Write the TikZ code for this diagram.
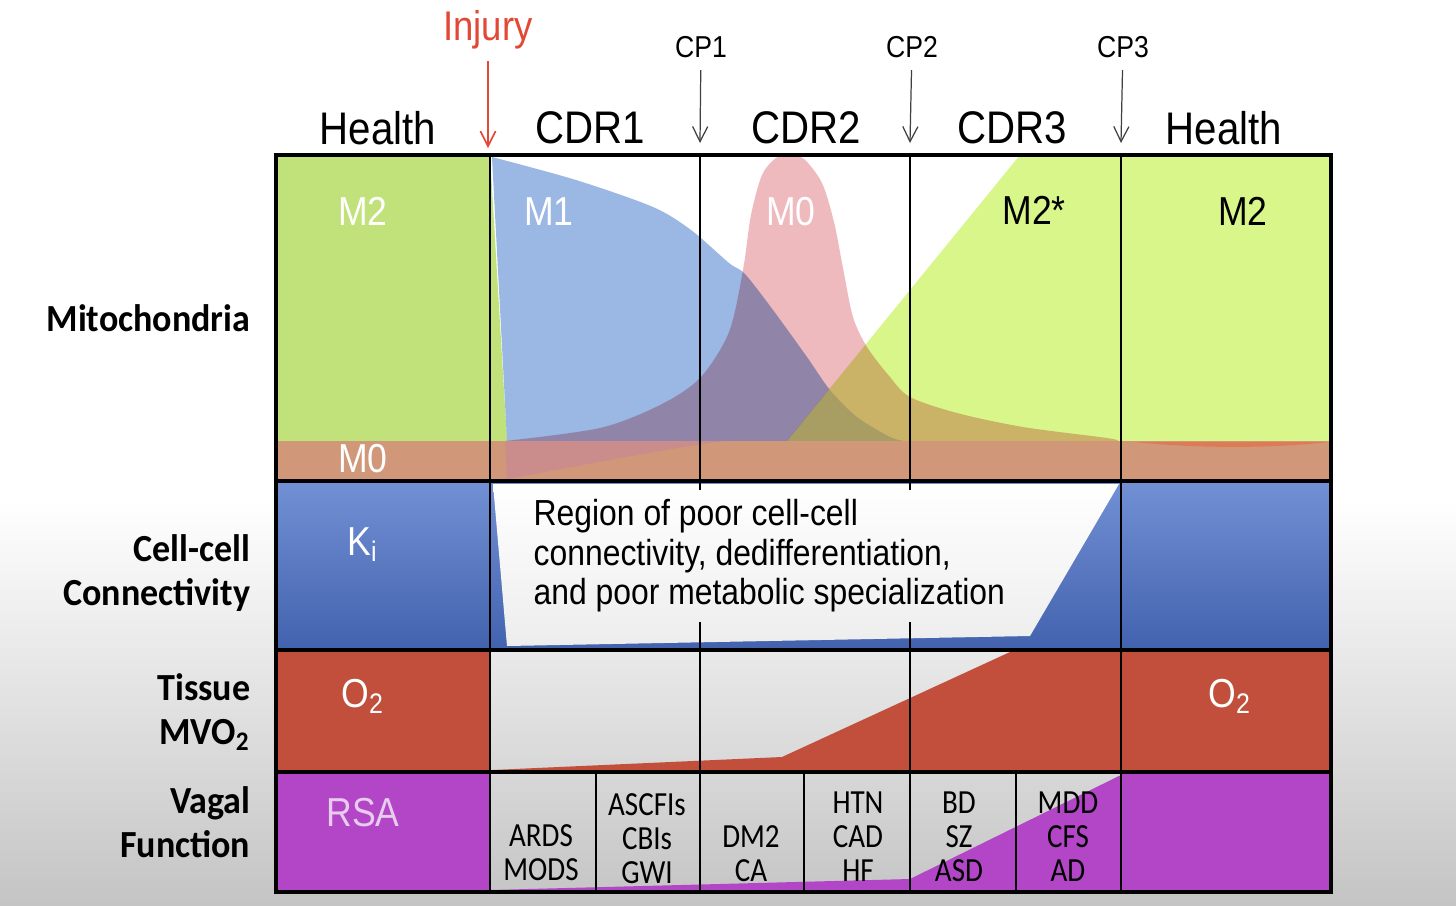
\documentclass[tikz,border=0pt]{standalone}
\usepackage{fontspec}
\setmainfont{Liberation Sans}[FakeStretch=0.88]
\newfontfamily\calfont{Carlito}[FakeStretch=0.94]
\newfontfamily\dxfont{Carlito}[FakeStretch=0.86]
\usetikzlibrary{arrows.meta,positioning}

\definecolor{mtgreen}{RGB}{193,225,123}
\definecolor{mtlime}{RGB}{217,246,139}
\definecolor{mtblue}{RGB}{155,183,228}
\definecolor{mtpink}{RGB}{238,186,190}
\definecolor{mtband}{RGB}{208,152,120}
\definecolor{bandpink}{RGB}{203,140,140}
\definecolor{bandred}{RGB}{226,112,72}
\definecolor{ccblueA}{RGB}{114,144,212}
\definecolor{ccblueB}{RGB}{66,98,174}
\definecolor{tsred}{RGB}{193,79,59}
\definecolor{vgpurple}{RGB}{178,70,198}
\definecolor{rsapink}{RGB}{232,204,238}
\definecolor{injred}{RGB}{226,72,52}
\definecolor{bggray}{RGB}{196,196,196}

% M1 curve, used twice
\newcommand{\mOneshape}{plot[smooth] coordinates {
      (492,157) (576,180) (653,207) (691,230) (729,263) (745,274)
      (773,310) (807,357) (830,390) (857,417) (890,437) (905,441)}
      -- (507,441) -- cycle}

\tikzset{
  coltitle/.style={font=\fontsize{13}{15}\selectfont},
  cplabel/.style={font=\fontsize{8.6}{10}\selectfont},
  boxlabel/.style={font=\fontsize{11.5}{13}\selectfont, text=white, anchor=base},
  rowlabel/.style={font=\calfont\bfseries\fontsize{10.9}{12.6}\selectfont,
                   align=right, anchor=east, inner sep=0pt},
  regtext/.style={font=\fontsize{10.3}{11.2}\selectfont, align=left,
                  anchor=west, inner sep=0pt},
  dxlabel/.style={font=\dxfont\fontsize{9.6}{9.7}\selectfont, align=center},
  gridline/.style={line width=.7pt},
  rowline/.style={line width=1.1pt}
}

\begin{document}
\begin{tikzpicture}[x=0.01cm, y=-0.01cm,
    >={Straight Barb[length=4.3pt,width=4.3pt]}]
  \useasboundingbox (0,0) rectangle (1456,905);
  \fill[white] (0,0) rectangle (1456,905);
  \shade[top color=white, bottom color=bggray] (0,500) rectangle (1456,905);

  % mitochondria
  \fill[mtgreen] (276,155) rectangle (490,441);
  \fill[mtlime]  (1121,155) rectangle (1331,441);
  \fill[mtgreen] (490,155) -- (507,441) -- (490,441) -- cycle;
  \fill[mtlime]  (787,441) -- (1020,155) -- (1121,155) -- (1121,441) -- cycle;
  \begin{scope}
    \clip (480,150) -- (1024,150) -- (787,441) -- (480,441) -- cycle;
    \fill[mtblue, blend mode=multiply] \mOneshape;
  \end{scope}
  \begin{scope}
    \clip (1024,150) -- (1130,150) -- (1130,441) -- (787,441) -- cycle;
    \fill[mtblue, blend mode=multiply, opacity=.42] \mOneshape;
  \end{scope}
  \fill[mtpink, blend mode=multiply] plot[smooth] coordinates {
      (505,441) (600,428) (660,405) (700,378) (729,332) (743,270)
      (751,215) (762,175) (776,158) (789,155) (804,159) (822,183)
      (834,222) (843,268) (853,317) (867,347) (890,377) (910,397)
      (957,413) (1023,427) (1107,438) (1118,441)} -- cycle;
  \fill[mtband] (276,441) rectangle (1331,481);
  \fill[bandpink] (507,479) .. controls (600,462) and (670,448) .. (725,441)
      -- (505,441) -- cycle;
  \fill[bandred, opacity=.7] (1135,442) .. controls (1200,449) and (1280,448)
      .. (1328,442) -- cycle;

  % cell-cell connectivity
  \shade[top color=ccblueA, bottom color=ccblueB] (276,481) rectangle (1331,650);
  \shade[top color=white, bottom color=black!7]
      (493,484) -- (507,646) -- (1030,636) -- (1119,484) -- cycle;

  % tissue MVO2
  \fill[tsred] (276,650) rectangle (490,772);
  \fill[tsred] (1121,650) rectangle (1331,772);
  \fill[tsred] (492,770) -- (782,757) -- (1010,652) -- (1121,652)
      -- (1121,772) -- (490,772) -- cycle;

  % vagal function
  \fill[vgpurple] (276,772) rectangle (490,892);
  \fill[vgpurple] (1121,772) rectangle (1331,892);
  \fill[vgpurple] (490,890) -- (910,879) -- (1121,775) -- (1121,892)
      -- (490,892) -- cycle;

  % grid
  \draw[gridline] (490,155) -- (490,892) (1121,155) -- (1121,892);
  \draw[gridline] (700,155) -- (700,490) (700,622) -- (700,892);
  \draw[gridline] (910,155) -- (910,490) (910,622) -- (910,892);
  \draw[line width=.6pt] (596,772) -- (596,892) (804,772) -- (804,892)
      (1016,772) -- (1016,892);
  \draw[rowline] (276,481) -- (1331,481) (276,650) -- (1331,650)
      (276,772) -- (1331,772);
  \draw[line width=1pt] (276,155) rectangle (1331,892);

  % column titles
  \node[coltitle] (hl1)  at (378,128)  {Health};
  \node[coltitle] (cdr1) at (590,128)  {CDR1};
  \node[coltitle] (cdr2) at (806,128)  {CDR2};
  \node[coltitle] (cdr3) at (1012,128) {CDR3};
  \node[coltitle] (hl2)  at (1224,128) {Health};

  \node[font=\fontsize{11.8}{13}\selectfont, text=injred, anchor=base]
      (inj) at (488,40) {Injury};
  \node[cplabel] (cp1) at (701,47)  {CP1};
  \node[cplabel] (cp2) at (912,47)  {CP2};
  \node[cplabel] (cp3) at (1123,47) {CP3};
  \coordinate (injtip) at (488,148);
  \coordinate (cp1tip) at (700,143);
  \coordinate (cp2tip) at (910,143);
  \coordinate (cp3tip) at (1121,143);

  % box labels
  \node[boxlabel] (m2a) at (363,225)  {M2};
  \node[boxlabel] (m1)  at (549,225)  {M1};
  \node[boxlabel] (m0a) at (791,225)  {M0};
  \node[boxlabel, text=black] (m2s) at (1034,224) {M2*};
  \node[boxlabel, text=black] (m2b) at (1243,225) {M2};
  \node[boxlabel] (m0b) at (363,472)  {M0};
  \node[boxlabel] (ki)  at (363,555)  {K\textsubscript{i}};
  \node[boxlabel] (o2a) at (363,707)  {O\textsubscript{2}};
  \node[boxlabel] (o2b) at (1230,707) {O\textsubscript{2}};
  \node[boxlabel, text=rsapink] (rsa) at (363,826) {RSA};

  % row labels
  \node[rowlabel] (mito) at (251,318) {Mitochondria};
  \node[rowlabel] (cell) at (251,573) {Cell-cell\\Connectivity};
  \node[rowlabel] (tiss) at (251,712) {Tissue\\MVO\textsubscript{2}};
  \node[rowlabel] (vag)  at (251,822) {Vagal\\Function};

  \node[regtext] (poor) at (533,556)
      {Region of poor cell-cell\\connectivity, dedifferentiation,\\and poor metabolic specialization};

  % vagal diagnoses
  \node[dxlabel] (ards) at (541,853)  {ARDS\\MODS};
  \node[dxlabel] (ascf) at (647,839)  {ASCFIs\\CBIs\\GWI};
  \node[dxlabel] (dm2)  at (751,854)  {DM2\\CA};
  \node[dxlabel] (htn)  at (858,837)  {HTN\\CAD\\HF};
  \node[dxlabel] (bd)   at (959,837)  {BD\\SZ\\ASD};
  \node[dxlabel] (mdd)  at (1068,837) {MDD\\CFS\\AD};

  \path[->] (inj) edge[injred, line width=.45pt] (injtip)
            (cp1) edge[black!75, line width=.35pt] (cp1tip)
            (cp2) edge[black!75, line width=.35pt] (cp2tip)
            (cp3) edge[black!75, line width=.35pt] (cp3tip);
\end{tikzpicture}
\end{document}
